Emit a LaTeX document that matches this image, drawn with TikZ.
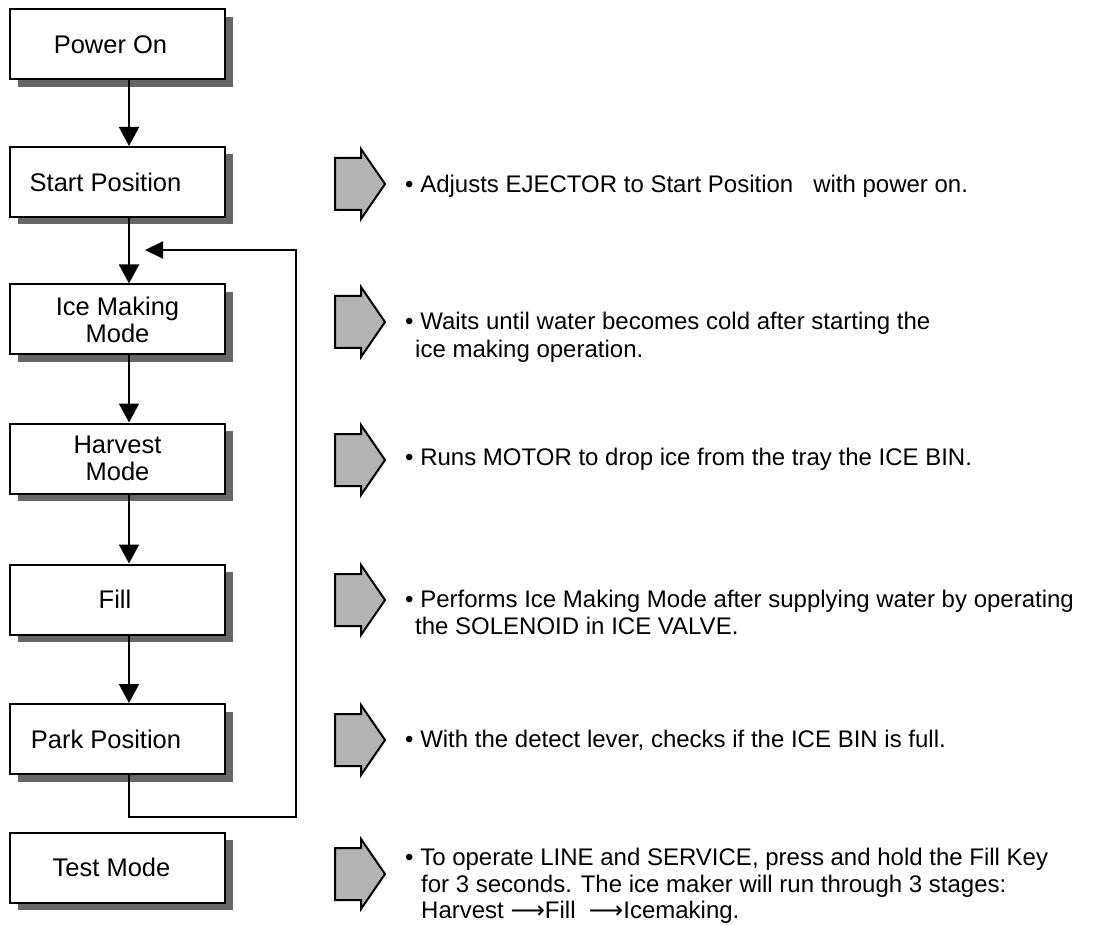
\documentclass[tikz,border=0pt]{standalone}
\usepackage{fontspec}
\setmainfont{Liberation Sans}
\newfontfamily\arrowfont{DejaVu Sans}
\usetikzlibrary{arrows.meta,shadows}
\definecolor{shadowgray}{RGB}{102,102,102}
\definecolor{fatgray}{RGB}{179,179,179}
\newcommand\fatarr[1]{\draw[fat] (335,#1) ++(0,-26) -- ++(26,0) -- ++(0,-9) -- ++(24,35) -- ++(-24,35) -- ++(0,-9) -- ++(-26,0) -- cycle;}
\newcommand\larr{{\arrowfont ⟶}}
\begin{document}
\begin{tikzpicture}[x=1pt,y=-1pt,
  box/.style={draw=black, line width=2pt, fill=white, minimum width=215pt, minimum height=70pt,
    inner sep=0pt, align=center, font=\fontsize{25.5}{27}\selectfont,
    drop shadow={shadow xshift=7.5pt, shadow yshift=-7.5pt, fill=shadowgray, opacity=1}},
  lshift/.style={execute at begin node={\hspace*{-#1}}},
  flow/.style={line width=2pt, line join=miter, -{Triangle[width=20pt,length=19pt]}},
  loopflow/.style={line width=2pt, line join=miter, -{Triangle[width=17pt,length=18pt]}},
  desc/.style={anchor=base west, inner sep=0pt, font=\fontsize{24}{27}\selectfont},
  fat/.style={draw=black, line width=2pt, fill=fatgray, line join=miter, miter limit=10}]
\useasboundingbox (0,0) rectangle (1098,925);

% flow boxes
\node[box, lshift=14pt] (pon)   at (117.5,44.5)  {Power On};
\node[box, lshift=24pt] (start) at (117.5,182)   {Start Position};
\node[box] (ice)   at (117.5,319.5) {Ice Making\\Mode};
\node[box] (harv)  at (117.5,458.5) {Harvest\\Mode};
\node[box, lshift=5pt] (fill)  at (117.5,599.5) {Fill};
\node[box, lshift=23pt] (park)  at (117.5,739)   {Park Position};
\node[box, lshift=12pt] (test)  at (117.5,867.5) {Test Mode};

% connectors
\coordinate (ax) at (129,0);
\draw[flow] (pon.south -| ax)   -- (start.north -| ax);
\draw[flow] (start.south -| ax) -- (ice.north -| ax);
\draw[flow] (ice.south -| ax)   -- (harv.north -| ax);
\draw[flow] (harv.south -| ax)  -- (fill.north -| ax);
\draw[flow] (fill.south -| ax)  -- (park.north -| ax);
\coordinate (lr) at (296,817);
\coordinate (le) at (145,250);
\draw[loopflow] (park.south -| ax) |- (lr) |- (le);

% fat arrows
\fatarr{184}
\fatarr{322}
\fatarr{460}
\fatarr{600}
\fatarr{740}
\fatarr{874}

% descriptions
\node[desc] (d1)  at (405,193) {• Adjusts EJECTOR to Start Position \ \ with power on.};
\node[desc] (d2a) at (405,330) {• Waits until water becomes cold after starting the};
\node[desc] (d2b) at (415,357) {ice making operation.};
\node[desc] (d3)  at (405,465) {• Runs MOTOR to drop ice from the tray the ICE BIN.};
\node[desc] (d4a) at (405,607) {• Performs Ice Making Mode after supplying water by operating};
\node[desc] (d4b) at (415,634) {the SOLENOID in ICE VALVE.};
\node[desc] (d5)  at (405,747) {• With the detect lever, checks if the ICE BIN is full.};
\node[desc] (d6a) at (405,865) {• To operate LINE and SERVICE, press and hold the Fill Key};
\node[desc] (d6b) at (421,892) {for 3 seconds. The ice maker will run through 3 stages:};
\node[desc] (d6c) at (421,918) {Harvest \larr Fill \ \larr Icemaking.};
\end{tikzpicture}
\end{document}
